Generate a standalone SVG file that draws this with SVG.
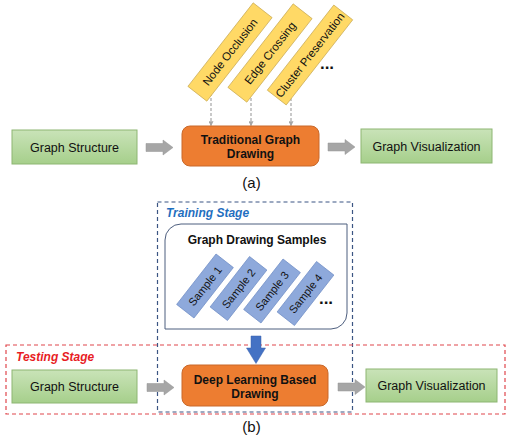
<svg xmlns="http://www.w3.org/2000/svg" width="507" height="436" viewBox="0 0 507 436">
<defs>
<linearGradient id="gg" x1="0" y1="0" x2="0" y2="1">
<stop offset="0" stop-color="#C9E3B8"/>
<stop offset="1" stop-color="#A6CF8B"/>
</linearGradient>
<marker id="dh" viewBox="0 0 6 6" refX="5" refY="3" markerWidth="5" markerHeight="5" orient="auto" markerUnits="userSpaceOnUse">
<path d="M0,0 L6,3 L0,6 Z" fill="#A6A6A6"/>
</marker>
<path id="garrow" d="M0,-4 H17 V-7.5 L27,0 L17,7.5 V4 H0 Z"/>
</defs>
<style>
text{font-family:"Liberation Sans",Arial,sans-serif;fill:#111111;}
.lbl{font-size:12.5px;text-anchor:middle;}
.bold{font-size:12px;font-weight:bold;text-anchor:middle;}
.green{fill:url(#gg);stroke:#8DB673;stroke-width:1;}
.orange{fill:#ED7D31;stroke:#C9692A;stroke-width:1;}
.yellow{fill:#FFD966;stroke:#C8AA55;stroke-width:0.7;}
.ytxt{font-size:11.5px;text-anchor:middle;}
.blue{fill:#8EA9DB;stroke:#6F8DC6;stroke-width:0.7;}
.stxt{font-size:11px;text-anchor:middle;}
.garr{fill:#A6A6A6;stroke:#959595;stroke-width:0.5;}
.dash{stroke:#A6A6A6;stroke-width:1.2;stroke-dasharray:3 2;fill:none;}
.cap{font-size:15px;text-anchor:middle;}
.dots{font-size:17px;font-weight:bold;text-anchor:middle;}
</style>
<rect width="507" height="436" fill="#ffffff"/>

<!-- stage frames -->
<g id="training-stage">
<rect x="157.5" y="202" width="195" height="210" fill="none" stroke="#3B5583" stroke-width="1.2" stroke-dasharray="4 3"/>
<text x="166" y="217" style="font-size:12px;font-weight:bold;font-style:italic;fill:#1F6FBF;">Training Stage</text>
</g>
<g id="testing-stage">
<rect x="6" y="345" width="499" height="69" fill="none" stroke="#E0474C" stroke-width="1.2" stroke-dasharray="4 3"/>
<text x="16" y="361" style="font-size:12px;font-weight:bold;font-style:italic;fill:#E81C24;">Testing Stage</text>
</g>

<!-- connectors -->
<g id="connectors">
<line class="dash" x1="211" y1="88" x2="211" y2="125.5" marker-end="url(#dh)"/>
<line class="dash" x1="251" y1="88" x2="251" y2="125.5" marker-end="url(#dh)"/>
<line class="dash" x1="291" y1="88" x2="291" y2="125.5" marker-end="url(#dh)"/>
<use href="#garrow" class="garr" transform="translate(146,147.5)"/>
<use href="#garrow" class="garr" transform="translate(328,147)"/>
<use href="#garrow" class="garr" transform="translate(147,387.5)"/>
<use href="#garrow" class="garr" transform="translate(338,387)"/>
<path d="M251,336 H261 V348 H265.5 L256,363.5 L246.5,348 H251 Z" fill="#4472C4" stroke="#3A63AE" stroke-width="0.5"/>
</g>

<!-- top (a) -->
<g id="node-occlusion" transform="translate(230,52) rotate(-52)">
<rect class="yellow" x="-53" y="-12" width="106" height="24"/>
<text class="ytxt" y="4">Node Occlusion</text>
</g>
<g id="edge-crossing" transform="translate(270,53) rotate(-52)">
<rect class="yellow" x="-53" y="-12" width="106" height="24"/>
<text class="ytxt" y="4">Edge Crossing</text>
</g>
<g id="cluster-preservation" transform="translate(310,55) rotate(-52)">
<rect class="yellow" x="-54" y="-12" width="108" height="24"/>
<text class="ytxt" y="4">Cluster Preservation</text>
</g>
<text class="dots" x="327" y="69">...</text>

<g id="graph-structure-a">
<rect class="green" x="12" y="130" width="125" height="34"/>
<text class="lbl" x="74.5" y="151.5">Graph Structure</text>
</g>
<g id="traditional-drawing">
<rect class="orange" x="182" y="126" width="137" height="40" rx="8"/>
<text class="bold" x="250.5" y="144">Traditional Graph</text>
<text class="bold" x="250.5" y="158">Drawing</text>
</g>
<g id="graph-visualization-a">
<rect class="green" x="361" y="129" width="131" height="34"/>
<text class="lbl" x="426.5" y="150.5">Graph Visualization</text>
</g>
<text class="cap" x="251.5" y="188">(a)</text>

<!-- bottom (b) -->
<g id="graph-drawing-samples">
<path d="M181,224 H347 V313 A16,16 0 0 1 331,329 H165 V240 A16,16 0 0 1 181,224 Z" fill="#ffffff" stroke="#4D5E7E" stroke-width="1"/>
<text class="bold" x="257" y="244">Graph Drawing Samples</text>
</g>
<g id="sample-1" transform="translate(205,286) rotate(-52)">
<rect class="blue" x="-32" y="-11" width="64" height="22"/>
<text class="stxt" y="4">Sample 1</text>
</g>
<g id="sample-2" transform="translate(238.5,288.5) rotate(-52)">
<rect class="blue" x="-32" y="-11" width="64" height="22"/>
<text class="stxt" y="4">Sample 2</text>
</g>
<g id="sample-3" transform="translate(272,291) rotate(-52)">
<rect class="blue" x="-32" y="-11" width="64" height="22"/>
<text class="stxt" y="4">Sample 3</text>
</g>
<g id="sample-4" transform="translate(305.5,293.5) rotate(-52)">
<rect class="blue" x="-32" y="-11" width="64" height="22"/>
<text class="stxt" y="4">Sample 4</text>
</g>
<text class="dots" x="326" y="304">...</text>

<g id="graph-structure-b">
<rect class="green" x="12" y="370" width="125" height="33"/>
<text class="lbl" x="74.5" y="391">Graph Structure</text>
</g>
<g id="deep-learning-drawing">
<rect class="orange" x="182" y="365" width="146" height="41" rx="8"/>
<text class="bold" x="255" y="384">Deep Learning Based</text>
<text class="bold" x="255" y="398">Drawing</text>
</g>
<g id="graph-visualization-b">
<rect class="green" x="366" y="369" width="131" height="33"/>
<text class="lbl" x="431.5" y="390">Graph Visualization</text>
</g>
<text class="cap" x="251.5" y="432">(b)</text>
</svg>
